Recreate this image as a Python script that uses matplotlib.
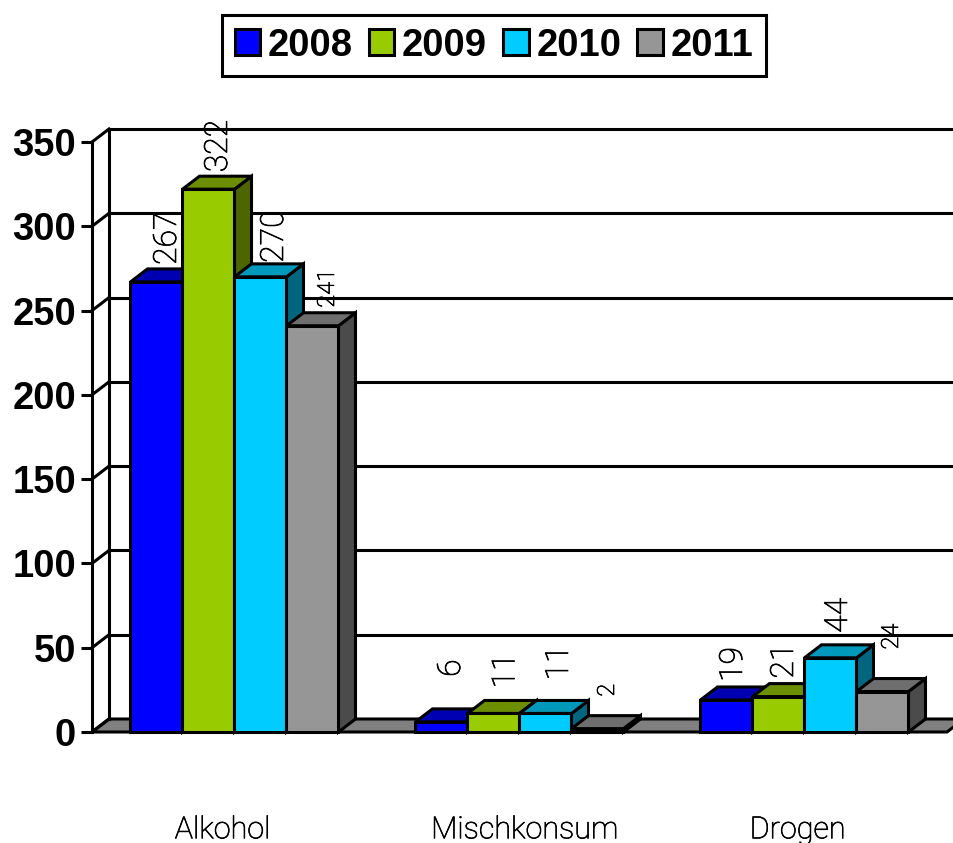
import matplotlib
matplotlib.use('Agg')
import matplotlib.pyplot as plt
import matplotlib.patheffects as pe
from matplotlib.patches import Patch
from matplotlib.transforms import ScaledTranslation

plt.rcParams['font.family'] = ['Liberation Sans', 'DejaVu Sans']

categories = ['Alkohol', 'Mischkonsum', 'Drogen']
years = ['2008', '2009', '2010', '2011']
values_2008 = [267, 6, 19]
values_2009 = [322, 11, 21]
values_2010 = [270, 11, 44]
values_2011 = [241, 2, 24]
y_ticks = [0, 50, 100, 150, 200, 250, 300, 350]

series = [values_2008, values_2009, values_2010, values_2011]
front_colors = ['#0000FF', '#99CC00', '#00CCFF', '#969696']
top_colors = ['#0000B3', '#6B8F00', '#0099BB', '#6E6E6E']
side_colors = ['#000080', '#4D6600', '#006680', '#4B4B4B']

# 3d look: depth of the box in data units
depth_x = 17 / 285
depth_y = 13 / (590 / 350)
bar_w = 52 / 285
lw = 2.2

# label nudges in pixels (x, up from the bar top) per series, per group
label_nudge = [
    [(11, 17), (10, 45), (7, 18)],
    [(10, 17), (12.5, 25), (6, 18)],
    [(14, 14), (14, 33), (8, 25)],
    [(15, 18), (10, 32), (9, 42)],
]
label_size = [
    [23, 23, 23],
    [23, 23, 23],
    [23, 23, 23],
    [17, 17, 17],
]
cat_nudge = [-12, 5, -7]
thin_font = ['Roboto', 'Liberation Sans']
# the light face alone comes out too faint, thicken it a little
thicker = [pe.withStroke(linewidth=0.5, foreground='black')]

W, H = 954, 843
fig = plt.figure(figsize=(W / 100, H / 100), dpi=100)
ax = fig.add_axes([92 / W, (H - 732) / H, 855 / W, 590 / H])
ax.set_xlim(-0.5, 2.5)
ax.set_ylim(0, 350)

# floor
ax.fill([-0.5, 2.5, 2.5 + depth_x, -0.5 + depth_x], [0, 0, depth_y, depth_y],
        facecolor='#808080', edgecolor='black', linewidth=lw, clip_on=False, zorder=1)

# back wall and the little diagonals at each tick
for t in y_ticks:
    if t > 0:
        ax.plot([-0.5 + depth_x, 2.5 + depth_x], [t + depth_y, t + depth_y],
                color='black', linewidth=lw, clip_on=False, zorder=1)
    ax.plot([-0.5, -0.5 + depth_x], [t, t + depth_y], color='black', linewidth=lw,
            clip_on=False, zorder=1)
ax.plot([-0.5 + depth_x, -0.5 + depth_x], [depth_y, 350 + depth_y], color='black',
        linewidth=lw, clip_on=False, zorder=1)

# bars, left to right so each one covers the box before it
for g in range(len(categories)):
    for i, vals in enumerate(series):
        x0 = g + (i - 2) * bar_w
        x1 = x0 + bar_w
        v = vals[g]
        ax.fill([x1, x1 + depth_x, x1 + depth_x, x1], [0, depth_y, v + depth_y, v],
                facecolor=side_colors[i], edgecolor='black', linewidth=lw,
                clip_on=False, zorder=2)
        ax.fill([x0, x1, x1 + depth_x, x0 + depth_x], [v, v, v + depth_y, v + depth_y],
                facecolor=top_colors[i], edgecolor='black', linewidth=lw,
                clip_on=False, zorder=2)
        ax.bar(x0, v, width=bar_w, align='edge', color=front_colors[i], edgecolor='black',
               linewidth=lw, clip_on=False, zorder=2)

for g in range(len(categories)):
    for i, vals in enumerate(series):
        nx, ny = label_nudge[i][g]
        ax.annotate(str(vals[g]), (g + (i - 1.5) * bar_w, vals[g]),
                    xytext=(nx * 0.72, ny * 0.72), textcoords='offset points',
                    rotation=90, ha='center', va='bottom', family=thin_font, weight='light',
                    fontsize=label_size[i][g], color='black', zorder=5,
                    annotation_clip=False, path_effects=thicker)

for s in ['top', 'right', 'bottom']:
    ax.spines[s].set_visible(False)
ax.spines['left'].set_linewidth(lw)
ax.patch.set_visible(False)

ax.set_yticks(y_ticks)
ax.tick_params(axis='y', length=8, width=lw, pad=3.5, labelsize=27.5)
for lab in ax.get_yticklabels():
    lab.set_fontweight('bold')

ax.set_xticks(range(len(categories)))
ax.set_xticklabels(categories, family=thin_font, weight='light', path_effects=thicker)
ax.tick_params(axis='x', length=0, pad=60, labelsize=22, labelcolor='black')
for lab, n in zip(ax.get_xticklabels(), cat_nudge):
    lab.set_transform(lab.get_transform() + ScaledTranslation(n / 100, 0, fig.dpi_scale_trans))

handles = [Patch(facecolor=c, edgecolor='black', linewidth=lw) for c in front_colors]
leg = fig.legend(handles, years, loc='center', bbox_to_anchor=(494 / W, 1 - 45.5 / H),
                 ncols=4, fancybox=False, framealpha=1, edgecolor='black',
                 prop={'weight': 'bold', 'size': 27.5}, handlelength=0.67, handleheight=0.67,
                 handletextpad=0.2, columnspacing=0.42, borderpad=0.32, borderaxespad=0)
leg.get_frame().set_linewidth(lw)

fig.savefig('out.png', dpi=100)
